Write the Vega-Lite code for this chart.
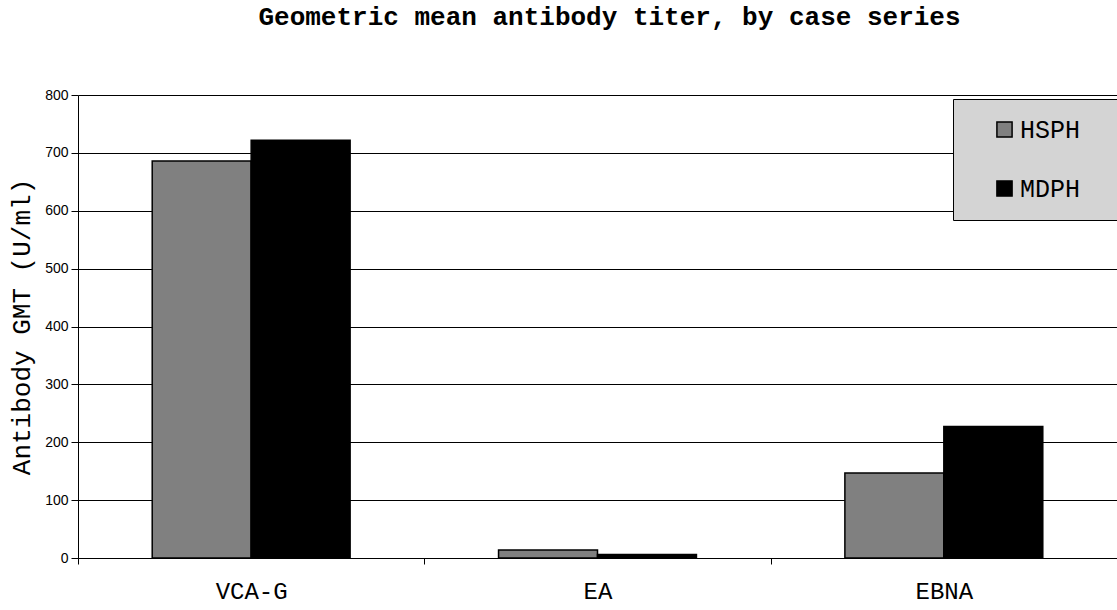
{
  "$schema": "https://vega.github.io/schema/vega-lite/v6.json",
  "width": 1039,
  "height": 463,
  "autosize": {"type": "none"},
  "padding": {"left": 78, "top": 95, "right": 0, "bottom": 52},
  "background": "white",
  "title": {
    "text": "Geometric mean antibody titer, by case series",
    "font": "Liberation Mono",
    "fontSize": 26,
    "fontWeight": "bold",
    "color": "black",
    "anchor": "middle",
    "dx": 12,
    "offset": 58
  },
  "data": {
    "values": [
      {"antigen": "VCA-G", "series": "HSPH", "gmt": 686},
      {"antigen": "VCA-G", "series": "MDPH", "gmt": 722},
      {"antigen": "EA", "series": "HSPH", "gmt": 14},
      {"antigen": "EA", "series": "MDPH", "gmt": 6},
      {"antigen": "EBNA", "series": "HSPH", "gmt": 147},
      {"antigen": "EBNA", "series": "MDPH", "gmt": 227}
    ]
  },
  "mark": {"type": "bar", "stroke": "black", "strokeWidth": 1.5},
  "encoding": {
    "x": {
      "field": "antigen",
      "type": "nominal",
      "sort": ["VCA-G", "EA", "EBNA"],
      "scale": {"paddingInner": 0, "paddingOuter": 0},
      "axis": {
        "title": null,
        "labelAngle": 0,
        "labelFont": "Liberation Mono",
        "labelFontSize": 24,
        "labelColor": "black",
        "labelPadding": 15,
        "domainColor": "black",
        "domainWidth": 1,
        "tickColor": "black",
        "tickSize": 6,
        "tickBand": "extent",
        "grid": false
      }
    },
    "xOffset": {
      "field": "series",
      "type": "nominal",
      "scale": {"paddingInner": 0, "paddingOuter": 0.75}
    },
    "y": {
      "field": "gmt",
      "type": "quantitative",
      "scale": {"domain": [0, 800], "nice": false},
      "axis": {
        "title": "Antibody GMT (U/ml)",
        "titleFont": "Liberation Mono",
        "titleFontSize": 26,
        "titleFontWeight": "normal",
        "titleColor": "black",
        "titlePadding": 10,
        "values": [0, 100, 200, 300, 400, 500, 600, 700, 800],
        "labelFont": "Liberation Sans",
        "labelFontSize": 14,
        "labelColor": "black",
        "labelPadding": 3,
        "domainColor": "black",
        "tickColor": "black",
        "tickSize": 7,
        "grid": true,
        "gridColor": "black",
        "gridOpacity": 1,
        "gridWidth": 1
      }
    },
    "fill": {
      "field": "series",
      "type": "nominal",
      "scale": {"domain": ["HSPH", "MDPH"], "range": ["#808080", "#000000"]},
      "legend": {
        "title": " ",
        "titleOrient": "right",
        "titleFontSize": 2,
        "titlePadding": 24,
        "orient": "none",
        "legendX": 875,
        "legendY": 4,
        "fillColor": "#d4d4d4",
        "strokeColor": "black",
        "padding": 18,
        "symbolType": "square",
        "symbolSize": 230,
        "symbolStrokeColor": "black",
        "symbolStrokeWidth": 1.5,
        "symbolOffset": 21,
        "labelFont": "Liberation Mono",
        "labelFontSize": 25,
        "labelColor": "black",
        "labelOffset": 3,
        "rowPadding": 33
      }
    }
  },
  "config": {"view": {"stroke": null}}
}
